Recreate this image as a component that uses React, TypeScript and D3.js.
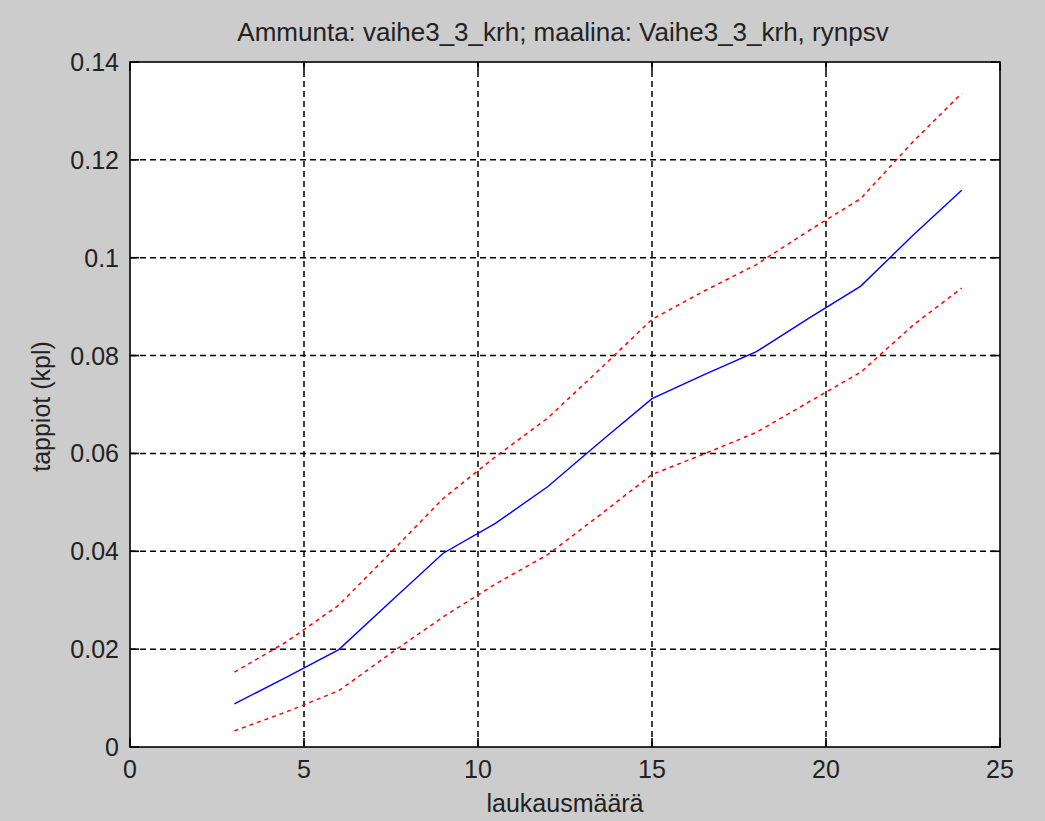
import React from "react";
import * as d3 from "d3";

// Shot counts and loss estimates (mean with upper/lower confidence bounds)
const shots = [3, 4.5, 6, 7.5, 9, 10.5, 12, 13.5, 15, 16.5, 18, 19.5, 21, 22.5, 23.9];
const meanLoss = [0.0088, 0.0143, 0.0199, 0.0298, 0.0396, 0.0457, 0.0532, 0.0623, 0.0712, 0.0761, 0.0808, 0.0876, 0.0942, 0.1046, 0.1138];
const upperLoss = [0.0153, 0.0215, 0.029, 0.0398, 0.0508, 0.0593, 0.0672, 0.0772, 0.0874, 0.0932, 0.0986, 0.1055, 0.1121, 0.1237, 0.1336];
const lowerLoss = [0.0033, 0.0072, 0.0115, 0.0192, 0.0266, 0.0333, 0.0393, 0.0474, 0.0557, 0.0599, 0.0643, 0.0705, 0.0766, 0.0862, 0.0938];

const xTicks = [0, 5, 10, 15, 20, 25];
const yTicks = [0, 0.02, 0.04, 0.06, 0.08, 0.1, 0.12, 0.14];
const yTickLabels = ["0", "0.02", "0.04", "0.06", "0.08", "0.1", "0.12", "0.14"];

const title = "Ammunta: vaihe3_3_krh; maalina: Vaihe3_3_krh, rynpsv";
const xLabel = "laukausmäärä";
const yLabel = "tappiot (kpl)";

const W = 1045;
const H = 821;
const plot = { left: 130, right: 1000, top: 62, bottom: 747 };
const FONT = "'Liberation Sans', Arial, Helvetica, sans-serif";
const TICK = 9;

export default function App() {
  const x = d3.scaleLinear().domain([0, 25]).range([plot.left, plot.right]);
  const y = d3.scaleLinear().domain([0, 0.14]).range([plot.bottom, plot.top]);

  const line = (vals: number[]) =>
    d3.line<number>()
      .x((_, i) => x(shots[i]))
      .y((v) => y(v))(vals) || "";

  return (
    <svg
      width={W}
      height={H}
      style={{ position: "absolute", left: 0, top: 0, display: "block" }}
      fontFamily={FONT}
    >
      <rect x={0} y={0} width={W} height={H} fill="#cccccc" />
      <rect
        x={plot.left}
        y={plot.top}
        width={plot.right - plot.left}
        height={plot.bottom - plot.top}
        fill="#ffffff"
      />

      {/* dotted grid */}
      <g stroke="#000" strokeWidth={1.5} strokeDasharray="6,4" fill="none">
        {xTicks.slice(1, -1).map((t) => (
          <line key={"gx" + t} x1={x(t)} x2={x(t)} y1={plot.bottom} y2={plot.top} />
        ))}
        {yTicks.slice(1, -1).map((t) => (
          <line key={"gy" + t} x1={plot.left} x2={plot.right} y1={y(t)} y2={y(t)} />
        ))}
      </g>

      {/* data */}
      <path d={line(upperLoss)} fill="none" stroke="#ff0000" strokeWidth={1.5} strokeDasharray="4,4" />
      <path d={line(lowerLoss)} fill="none" stroke="#ff0000" strokeWidth={1.5} strokeDasharray="4,4" />
      <path d={line(meanLoss)} fill="none" stroke="#0000ff" strokeWidth={1.4} />

      {/* axes box and inward ticks */}
      <g stroke="#000" strokeWidth={1.6} fill="none">
        <rect
          x={plot.left}
          y={plot.top}
          width={plot.right - plot.left}
          height={plot.bottom - plot.top}
        />
        {xTicks.map((t) => (
          <g key={"tx" + t}>
            <line x1={x(t)} x2={x(t)} y1={plot.bottom} y2={plot.bottom - TICK} />
            <line x1={x(t)} x2={x(t)} y1={plot.top} y2={plot.top + TICK} />
          </g>
        ))}
        {yTicks.map((t) => (
          <g key={"ty" + t}>
            <line x1={plot.left} x2={plot.left + TICK} y1={y(t)} y2={y(t)} />
            <line x1={plot.right} x2={plot.right - TICK} y1={y(t)} y2={y(t)} />
          </g>
        ))}
      </g>

      {/* tick labels */}
      <g fontSize={25} fill="#222">
        {xTicks.map((t) => (
          <text key={"lx" + t} x={x(t)} y={778} textAnchor="middle">
            {t}
          </text>
        ))}
        {yTicks.map((t, i) => (
          <text key={"ly" + t} x={119} y={y(t) + 9} textAnchor="end">
            {yTickLabels[i]}
          </text>
        ))}
      </g>

      <text x={(plot.left + plot.right) / 2 - 2} y={41} fontSize={26} textAnchor="middle" fill="#222">
        {title}
      </text>
      <text x={(plot.left + plot.right) / 2} y={812} fontSize={25} textAnchor="middle" fill="#222">
        {xLabel}
      </text>
      <text
        transform={`translate(50, ${(plot.top + plot.bottom) / 2 + 2}) rotate(-90)`}
        fontSize={25}
        textAnchor="middle"
        fill="#222"
      >
        {yLabel}
      </text>
    </svg>
  );
}
